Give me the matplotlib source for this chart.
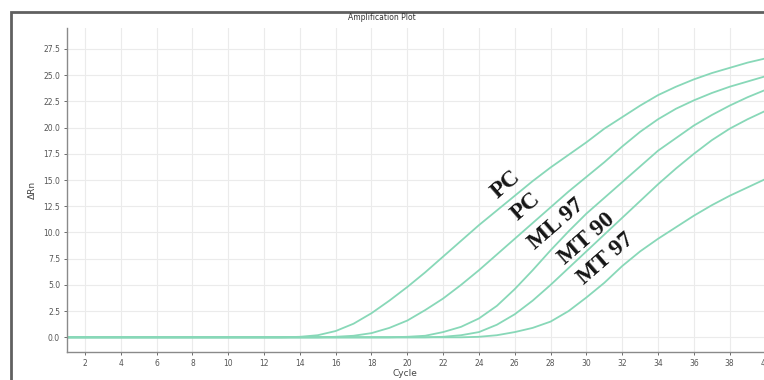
import matplotlib
matplotlib.use("Agg")
import matplotlib.pyplot as plt
from matplotlib.patches import Rectangle

# cycle numbers
cycles = list(range(1, 41))

# delta Rn per cycle
pc_a = [0.0] * 13 + [0.05, 0.2, 0.6, 1.3, 2.3, 3.5, 4.8, 6.2, 7.7, 9.2, 10.7, 12.1,
                     13.5, 14.9, 16.2, 17.4, 18.6, 19.9, 21.0, 22.1, 23.1, 23.9,
                     24.6, 25.2, 25.7, 26.2, 26.6]
pc_b = [0.0] * 15 + [0.05, 0.15, 0.4, 0.9, 1.6, 2.6, 3.7, 5.0, 6.4, 7.9, 9.4, 10.9,
                     12.4, 13.9, 15.3, 16.7, 18.2, 19.6, 20.8, 21.8, 22.6, 23.3,
                     23.9, 24.4, 24.9]
ml_97 = [0.0] * 19 + [0.05, 0.15, 0.5, 1.0, 1.8, 3.0, 4.6, 6.4, 8.3, 10.1, 11.8,
                      13.3, 14.8, 16.3, 17.8, 19.0, 20.2, 21.2, 22.1, 22.9, 23.6]
mt_90 = [0.0] * 21 + [0.05, 0.2, 0.5, 1.2, 2.2, 3.5, 5.0, 6.6, 8.2, 9.8, 11.4,
                      13.0, 14.6, 16.1, 17.5, 18.8, 19.9, 20.8, 21.6]
mt_97 = [0.0] * 23 + [0.05, 0.2, 0.5, 0.9, 1.5, 2.5, 3.8, 5.2, 6.8, 8.2, 9.4,
                      10.5, 11.6, 12.6, 13.5, 14.3, 15.1]

series = [pc_a, pc_b, ml_97, mt_90, mt_97]
labels = ["PC", "PC", "ML 97", "MT 90", "MT 97"]
# where each hand-written label sits (cycle, delta Rn)
label_pos = [(25.5, 14.6), (26.6, 12.5), (28.3, 10.8), (30.0, 9.4), (31.1, 7.5)]

x_ticks = list(range(2, 41, 2))
y_ticks = [0.0, 2.5, 5.0, 7.5, 10.0, 12.5, 15.0, 17.5, 20.0, 22.5, 25.0, 27.5]

fig = plt.figure(figsize=(7.64, 3.80), dpi=100)
ax = fig.add_axes([67 / 764, 1 - 352 / 380, 1 - 67 / 764 + 0.002, (352 - 28) / 380])

line_color = "#88d8b8"
for vals in series:
    ax.plot(cycles, vals, color=line_color, lw=1.3, solid_capstyle="round")

for txt, (cx, cy) in zip(labels, label_pos):
    ax.text(cx, cy, txt, rotation=41, ha="center", va="center",
            family="Liberation Serif", fontweight="bold", fontsize=17,
            color="#151515", rotation_mode="anchor")

ax.set_xlim(1, 40)
ax.set_ylim(-1.4, 29.5)
ax.set_xticks(x_ticks)
ax.set_yticks(y_ticks)
ax.set_xticklabels([str(t) for t in x_ticks])
ax.set_yticklabels(["%.1f" % t for t in y_ticks])
ax.tick_params(labelsize=5.5, colors="#555555", length=2, width=0.6, pad=3)
ax.grid(True, color="#ebebeb", lw=0.8)
ax.set_axisbelow(True)
for side in ["top", "right"]:
    ax.spines[side].set_visible(False)
for side in ["left", "bottom"]:
    ax.spines[side].set_color("#8a8a8a")
    ax.spines[side].set_linewidth(1.0)

fig.text(32 / 764, 1 - 190 / 380, "\u0394Rn", rotation=90, ha="center",
         va="center", fontsize=6.5, color="#444444")
fig.text(405 / 764, 1 - 373 / 380, "Cycle", ha="center", va="center",
         fontsize=6.5, color="#444444")
fig.text(382 / 764, 1 - 17 / 380, "Amplification Plot", ha="center",
         va="center", fontsize=5.5, color="#333333")

# screenshot panel frame
fig.patches.append(Rectangle((11 / 764, -0.05), 1.1, 1 - 12 / 380 + 0.05,
                             transform=fig.transFigure, fill=False,
                             edgecolor="#606060", lw=2.0))

fig.savefig("out.png", dpi=100)
